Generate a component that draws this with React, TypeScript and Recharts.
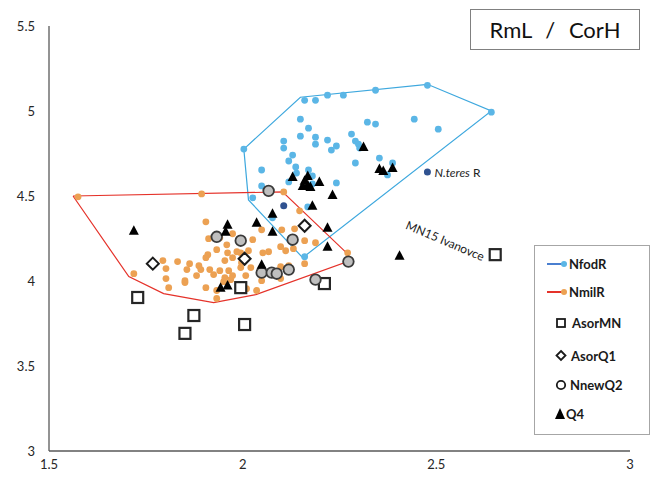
import React from "react";
import { ScatterChart, Scatter, XAxis, YAxis } from "recharts";

// RmL / CorH scatter: two convex hulls (NfodR, NmilR) plus the fossil samples.

type Pt = [number, number];

const X_TICKS = [1.5, 2, 2.5, 3];
const Y_TICKS = [3, 3.5, 4, 4.5, 5, 5.5];

// hull outlines, closed (first point repeated at the end)
const NFODR_HULL: Pt[] = [
  [2.003, 4.776], [2.149, 5.081], [2.477, 5.157], [2.642, 5.0],
  [2.155, 4.137], [2.015, 4.477], [2.003, 4.776],
];
const NMILR_HULL: Pt[] = [
  [1.562, 4.5], [2.103, 4.524], [2.273, 4.155], [2.271, 4.114],
  [2.034, 3.92], [1.925, 3.873], [1.796, 3.926], [1.706, 4.026], [1.562, 4.5],
];

const NFODR: Pt[] = [
  [2.003, 4.776], [2.16, 5.063], [2.188, 5.063], [2.219, 5.093], [2.26, 5.093],
  [2.343, 5.122], [2.477, 5.151], [2.642, 4.993], [2.149, 4.952], [2.17, 4.899],
  [2.149, 4.852], [2.188, 4.846], [2.188, 4.805], [2.219, 4.829], [2.106, 4.823],
  [2.106, 4.782], [2.129, 4.741], [2.119, 4.706], [2.229, 4.77], [2.242, 4.794],
  [2.281, 4.864], [2.291, 4.823], [2.299, 4.805], [2.302, 4.782], [2.322, 4.934],
  [2.343, 4.923], [2.443, 4.952], [2.505, 4.893], [2.291, 4.694], [2.353, 4.723],
  [2.387, 4.694], [2.374, 4.624], [2.049, 4.653], [2.137, 4.671], [2.139, 4.635],
  [2.17, 4.653], [2.18, 4.618], [2.119, 4.583], [2.18, 4.571], [2.242, 4.577],
  [2.049, 4.559], [2.026, 4.489], [2.168, 4.436], [2.077, 4.372], [2.16, 4.143],
];

const NMILR: Pt[] = [
  [1.575, 4.495], [1.894, 4.512], [2.106, 4.524], [1.905, 4.348], [2.147, 4.413],
  [1.912, 4.249], [1.941, 4.254], [1.974, 4.278], [2.049, 4.301], [2.101, 4.301],
  [2.134, 4.307], [2.026, 4.243], [1.933, 4.184], [1.961, 4.166], [1.995, 4.166],
  [2.015, 4.178], [2.052, 4.166], [2.067, 4.172], [2.098, 4.202], [2.111, 4.178],
  [2.131, 4.19], [2.16, 4.237], [2.188, 4.225], [2.271, 4.166], [1.91, 4.155],
  [1.905, 4.137], [1.954, 4.12], [1.974, 4.137], [1.794, 4.12], [1.832, 4.114],
  [1.863, 4.102], [1.887, 4.09], [1.802, 4.073], [1.856, 4.067], [1.892, 4.067],
  [1.915, 4.067], [1.941, 4.061], [1.964, 4.061], [1.995, 4.079], [2.021, 4.079],
  [2.098, 4.084], [2.119, 4.09], [2.16, 4.102], [1.719, 4.043], [1.802, 4.014],
  [1.851, 4.002], [1.881, 4.032], [1.925, 4.038], [1.954, 4.02], [1.974, 4.032],
  [2.008, 4.032], [2.049, 4.002], [2.098, 4.014], [1.809, 3.961], [1.851, 3.991],
  [1.905, 3.961], [1.933, 3.944], [1.951, 3.996], [1.969, 4.008], [2.036, 3.944],
  [1.933, 3.897], [1.985, 4.172], [1.959, 4.213], [2.01, 3.955], [1.997, 4.108],
];

// dark blue reference specimens
const NTERES: Pt[] = [[2.106, 4.442], [2.477, 4.641]];
const NTERES_LABELS = ["", "N.teres"];

const ASORMN: Pt[] = [
  [1.729, 3.903], [1.874, 3.797], [1.851, 3.692], [2.005, 3.744],
  [1.995, 3.961], [2.211, 3.985], [2.652, 4.155],
];
const ASORMN_NOTES = ["", "", "", "", "", "", "MN15 Ivanovce"];

const ASORQ1: Pt[] = [[1.768, 4.102], [2.005, 4.131], [2.16, 4.325]];

const NNEWQ2: Pt[] = [
  [1.933, 4.26], [1.995, 4.237], [2.067, 4.53], [2.129, 4.243], [2.049, 4.049],
  [2.075, 4.049], [2.088, 4.043], [2.119, 4.067], [2.188, 4.008], [2.273, 4.114],
];

const Q4: Pt[] = [
  [2.312, 4.788], [2.353, 4.659], [2.363, 4.647], [2.387, 4.665], [2.129, 4.612],
  [2.168, 4.618], [2.16, 4.589], [2.168, 4.565], [2.175, 4.553], [2.155, 4.559],
  [2.198, 4.583], [2.232, 4.506], [2.18, 4.442], [2.077, 4.395], [2.036, 4.342],
  [2.077, 4.29], [2.219, 4.313], [2.219, 4.202], [2.405, 4.149], [2.049, 4.096],
  [1.719, 4.295], [1.961, 4.331], [1.956, 4.29], [1.943, 3.961], [1.961, 3.973],
];

const FONT = "Lato, 'Open Sans', sans-serif";
const BLUE = "#5bb6e6";
const ORANGE = "#eca153";
const HULL_BLUE = "#3ea8de";
const HULL_RED = "#e5322a";

const toXY = (pts: Pt[], notes?: string[]) =>
  pts.map(([x, y], i) => ({ x, y, note: notes ? notes[i] : "" }));

const dot = (fill: string, r: number) => (p: any) => (
  <circle cx={p.cx} cy={p.cy} r={r} fill={fill} />
);

const none = () => <g />;

const ntShape = (p: any) => (
  <g>
    <circle cx={p.cx} cy={p.cy} r={3.5} fill="#2f5290" />
    {p.payload.note ? (
      <text x={p.cx + 7} y={p.cy + 4.5} fontSize={12} fontFamily={FONT} fill="#222">
        <tspan fontStyle="italic">{p.payload.note}</tspan>
        <tspan> R</tspan>
      </text>
    ) : null}
  </g>
);

const squareShape = (p: any) => (
  <g>
    <rect x={p.cx - 5.5} y={p.cy - 5.5} width={11} height={11} fill="#fff" stroke="#262626" strokeWidth={2.2} />
    {p.payload.note ? (
      <text
        x={p.cx - 50}
        y={p.cy - 14}
        fontSize={12}
        fontFamily={FONT}
        fill="#222"
        textAnchor="middle"
        dominantBaseline="central"
        transform={`rotate(23 ${p.cx - 50} ${p.cy - 14})`}
      >
        {p.payload.note}
      </text>
    ) : null}
  </g>
);

const diamondShape = (p: any) => (
  <polygon
    points={`${p.cx},${p.cy - 6} ${p.cx + 6},${p.cy} ${p.cx},${p.cy + 6} ${p.cx - 6},${p.cy}`}
    fill="#fff"
    stroke="#1a1a1a"
    strokeWidth={2}
  />
);

const circleShape = (p: any) => (
  <circle cx={p.cx} cy={p.cy} r={5.3} fill="#bfbfbf" stroke="#3a3a3a" strokeWidth={1.8} />
);

const triShape = (p: any) => (
  <polygon
    points={`${p.cx},${p.cy - 5.5} ${p.cx + 5},${p.cy + 4} ${p.cx - 5},${p.cy + 4}`}
    fill="#000"
  />
);

function LegendBox() {
  const row = (top: number, symbol: React.ReactNode, label: string, textLeft: number) => (
    <div key={label} style={{ position: "absolute", top: top - 9, left: 0, height: 18, width: "100%" }}>
      <svg width={40} height={18} style={{ position: "absolute", left: 0, top: 0 }}>
        {symbol}
      </svg>
      <span
        style={{
          position: "absolute",
          left: textLeft,
          top: 1,
          fontFamily: FONT,
          fontWeight: 700,
          fontSize: 13,
          color: "#1a1a1a",
          lineHeight: "16px",
        }}
      >
        {label}
      </span>
    </div>
  );
  return (
    <div
      style={{
        position: "absolute",
        left: 534,
        top: 245,
        width: 114,
        height: 188,
        border: "1px solid #a6a6a6",
        background: "#fff",
      }}
    >
      {row(18, <g><line x1={12} y1={9} x2={29} y2={9} stroke="#4a7fd0" strokeWidth={2} /><circle cx={29} cy={9} r={3} fill={BLUE} /></g>, "NfodR", 34)}
      {row(46, <g><line x1={12} y1={9} x2={29} y2={9} stroke={HULL_RED} strokeWidth={2} /><circle cx={29} cy={9} r={3} fill={ORANGE} /></g>, "NmilR", 34)}
      {row(77, <rect x={22} y={5} width={8} height={8} fill="#fff" stroke="#1a1a1a" strokeWidth={1.8} />, "AsorMN", 37)}
      {row(110, <polygon points="26,4 30.5,8.5 26,13 21.5,8.5" fill="#fff" stroke="#1a1a1a" strokeWidth={1.8} />, "AsorQ1", 36)}
      {row(139, <circle cx={26} cy={9} r={4.2} fill="#fff" stroke="#1a1a1a" strokeWidth={1.8} />, "NnewQ2", 35)}
      {row(168, <polygon points="25,3 30,14 20,14" fill="#000" />, "Q4", 31)}
    </div>
  );
}

export default function App() {
  const tick = { fill: "#262626", fontSize: 13, fontFamily: FONT };
  return (
    <div style={{ position: "absolute", left: 0, top: 0, width: 654, height: 477, background: "#fff" }}>
      <ScatterChart width={654} height={477} margin={{ top: 26, right: 24, bottom: 0, left: 0 }}>
        <XAxis
          type="number"
          dataKey="x"
          domain={[1.5, 3]}
          ticks={X_TICKS}
          tickLine={false}
          tickMargin={3}
          height={26}
          tick={tick}
          axisLine={{ stroke: "#595959", strokeWidth: 1.3 }}
        />
        <YAxis
          type="number"
          dataKey="y"
          domain={[3, 5.5]}
          ticks={Y_TICKS}
          tickLine={false}
          tickMargin={8}
          width={49}
          tick={tick}
          axisLine={{ stroke: "#595959", strokeWidth: 1.3 }}
        />
        <Scatter data={toXY(NFODR_HULL)} line={{ stroke: HULL_BLUE, strokeWidth: 1.2 }} shape={none} legendType="none" isAnimationActive={false} />
        <Scatter data={toXY(NMILR_HULL)} line={{ stroke: HULL_RED, strokeWidth: 1.2 }} shape={none} legendType="none" isAnimationActive={false} />
        <Scatter name="NfodR" data={toXY(NFODR)} shape={dot(BLUE, 3.4)} isAnimationActive={false} />
        <Scatter name="NmilR" data={toXY(NMILR)} shape={dot(ORANGE, 3.4)} isAnimationActive={false} />
        <Scatter data={toXY(NTERES, NTERES_LABELS)} shape={ntShape} legendType="none" isAnimationActive={false} />
        <Scatter name="AsorMN" data={toXY(ASORMN, ASORMN_NOTES)} shape={squareShape} isAnimationActive={false} />
        <Scatter name="AsorQ1" data={toXY(ASORQ1)} shape={diamondShape} isAnimationActive={false} />
        <Scatter name="NnewQ2" data={toXY(NNEWQ2)} shape={circleShape} isAnimationActive={false} />
        <Scatter name="Q4" data={toXY(Q4)} shape={triShape} isAnimationActive={false} />
      </ScatterChart>
      <div
        style={{
          position: "absolute",
          left: 470,
          top: 9,
          width: 168,
          height: 39,
          border: "1.5px solid #808080",
          fontFamily: FONT,
          fontSize: 22,
          lineHeight: "39px",
          textAlign: "center",
          color: "#111",
          wordSpacing: 8,
        }}
      >
        RmL / CorH
      </div>
      <LegendBox />
    </div>
  );
}
